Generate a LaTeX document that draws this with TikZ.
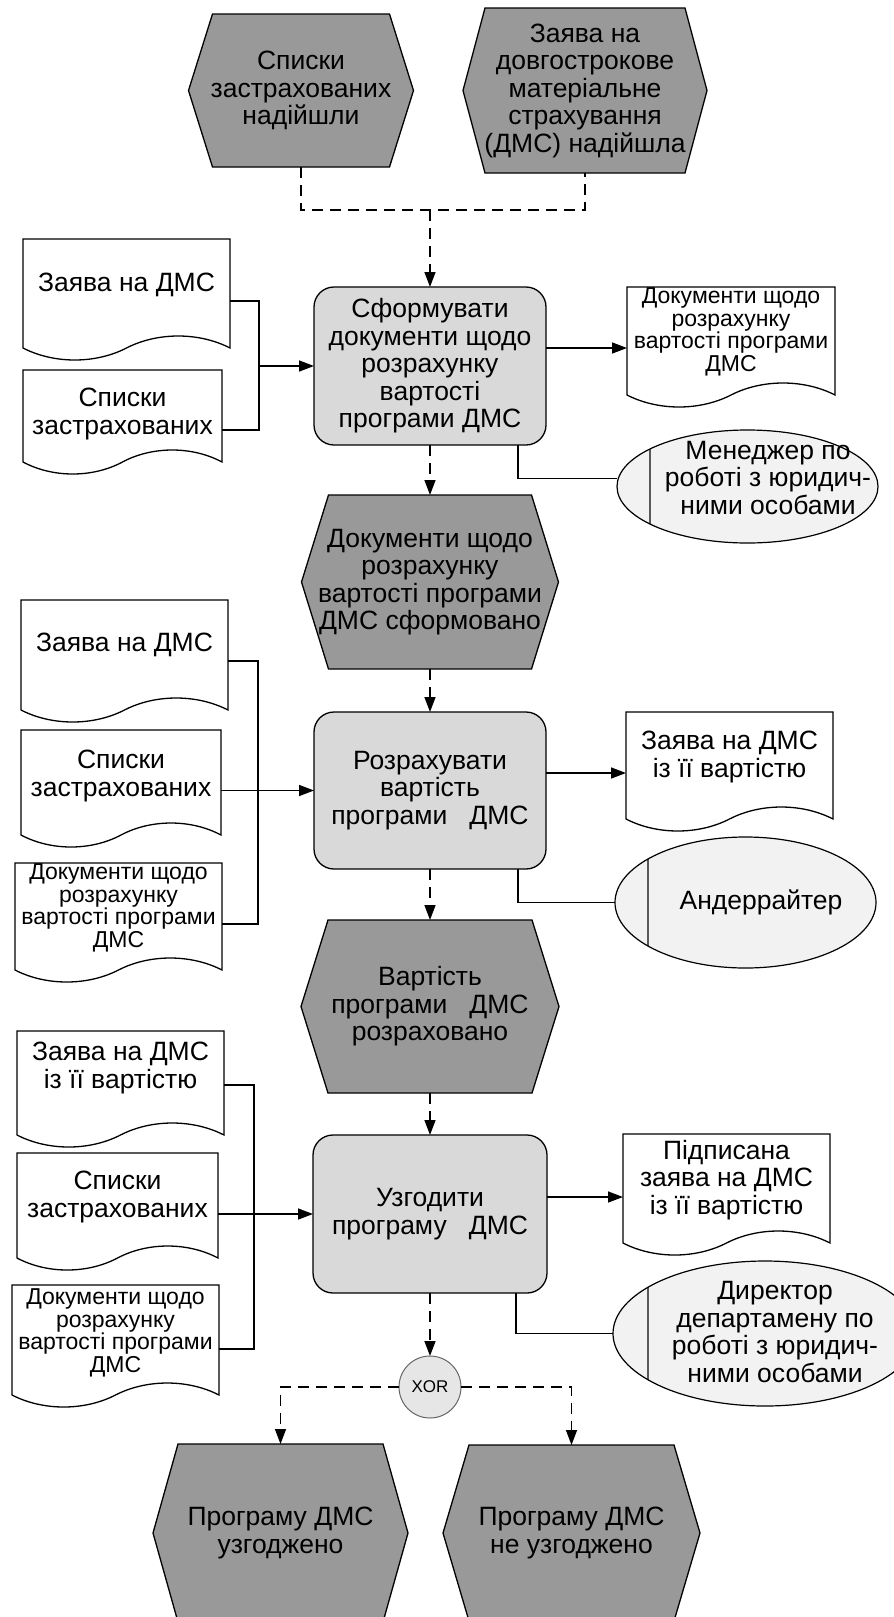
\documentclass[tikz,border=0pt]{standalone}
\usepackage{fontspec}
\setmainfont{Liberation Sans}
\usetikzlibrary{arrows.meta,calc,shapes.geometric}

\definecolor{eventfill}{RGB}{153,153,153}
\definecolor{funcfill}{RGB}{217,217,217}
\definecolor{rolefill}{RGB}{242,242,242}
\definecolor{xorfill}{RGB}{230,230,230}

\pgfdeclarelayer{background}
\pgfsetlayers{background,main}

\newcommand\bigf{\fontsize{26.5}{27.5}\selectfont}
\newcommand\smallf{\fontsize{23}{22.5}\selectfont}
\newcommand\waveamp{16}

\tikzset{
  hexnode/.style={draw=none, inner sep=0pt, outer sep=0pt, align=center, font=\bigf},
  hexline/.style={draw=black, fill=eventfill, line width=1.3pt, line join=miter},
  funcbox/.style={draw=black, fill=funcfill, line width=1.3pt, rounded corners=20pt,
    inner sep=0pt, outer sep=0pt, align=center, font=\bigf},
  docnode/.style={draw=none, inner sep=0pt, outer sep=0pt, align=center},
  docline/.style={draw=black, fill=white, line width=1.3pt},
  roleell/.style={ellipse, draw=black, fill=rolefill, line width=1.2pt, inner sep=0pt, outer sep=0pt},
  roleline/.style={draw=black!65, line width=1.2pt},
  roletext/.style={inner sep=0pt, align=center, font=\bigf},
  xornode/.style={circle, draw=black!60, fill=xorfill, line width=1pt, minimum size=62pt,
    inner sep=0pt, outer sep=0pt, font=\fontsize{17}{19}\selectfont},
  conn/.style={draw=black, line width=1.5pt},
  arr/.style={conn, -{Triangle[length=15pt,width=11pt]}},
  dashline/.style={draw=black, line width=1.4pt, dash pattern=on 11pt off 7pt},
  dasharr/.style={dashline, -{Triangle[length=15pt,width=11pt]}}
}

% event hexagon: name, cx, cy, width, height, chamfer, text
\newcommand\mkhex[7]{%
  \node[hexnode, minimum width=#4, minimum height=#5] (#1) at (#2,#3) {#7};
  \begin{pgfonlayer}{background}
    \draw[hexline] (#1.west) -- ([xshift=#6pt]#1.north west) -- ([xshift=-#6pt]#1.north east)
      -- (#1.east) -- ([xshift=-#6pt]#1.south east) -- ([xshift=#6pt]#1.south west) -- cycle;
  \end{pgfonlayer}}

% document: name, left, top, right, bottom, text y, font, text
\newcommand\mkdoc[8]{%
  \node[docnode, font=#7, minimum width={#4-#2}] (#1) at ({(#2+#4)/2},#6) {#8};
  \begin{pgfonlayer}{background}
    \pgfmathsetmacro\docw{#4-#2}
    \draw[docline] (#2,#5) -- (#2,#3) -- (#4,#3) -- (#4,#5)
      .. controls ({#4-0.15*\docw},{#5-\waveamp}) and ({#4-0.35*\docw},{#5-\waveamp}) .. ({(#2+#4)/2},#5)
      .. controls ({#2+0.35*\docw},{#5+\waveamp}) and ({#2+0.15*\docw},{#5+\waveamp}) .. (#2,#5) -- cycle;
  \end{pgfonlayer}}

\begin{document}
\begin{tikzpicture}[x=1pt,y=-1pt]
\useasboundingbox (0,0) rectangle (894,1617);

% ---- start events ----
\mkhex{h1}{301}{90.5}{225}{153}{24}{Списки\\застрахованих\\надійшли}
\mkhex{h2}{585}{90.5}{244}{165}{22}{Заява на\\довгострокове\\матеріальне\\страхування\\(ДМС) надійшла}
\coordinate (jn) at (430,210);
\draw[dashline] (h1.south) |- (jn) -| (h2.south);

% ---- function 1 ----
\node[funcbox, minimum width=232, minimum height=158] (b1) at (430,366)
  {Сформувати\\документи щодо\\розрахунку\\вартості\\програми ДМС};
\draw[dasharr] (jn) -- (b1.north);

\mkdoc{d1}{23}{239}{230}{348}{285}{\bigf}{Заява на ДМС}
\mkdoc{d2}{23}{370}{222}{462}{414}{\bigf}{Списки\\застрахованих}
\mkdoc{d3}{627}{287}{835}{395}{332}{\smallf}{Документи щодо\\розрахунку\\вартості програми\\ДМС}

\coordinate (j1) at ($(b1.west)+(-55,0)$);
\draw[conn] ($(d1.east)+(0,16)$) -| (j1) |- ($(d2.east)+(0,16)$);
\draw[arr] (j1) -- (b1.west);
\draw[arr] ($(b1.east)+(0,-18)$) coordinate (o1) -- (o1 -| d3.west);

\node[roleell, minimum width=261, minimum height=113,
  path picture={\draw[roleline] ([xshift=-97.5pt]path picture bounding box.north)
    -- ([xshift=-97.5pt]path picture bounding box.south);}] (e1) at (747.5,486.5) {};
\node[roletext] (e1t) at (768,478) {Менеджер по\\роботі з юридич-\\ними особами};
\draw[conn] ($(b1.south east)+(-28,0)$) |- ($(e1.west)+(0,-8)$);

% ---- event 2 ----
\mkhex{h3}{430}{582}{257}{174}{27}{Документи щодо\\розрахунку\\вартості програми\\ДМС сформовано}
\draw[dasharr] (b1.south) -- (h3.north);

% ---- function 2 ----
\node[funcbox, minimum width=232, minimum height=157] (b2) at (430,790.5)
  {Розрахувати\\вартість\\програми~~~ДМС};
\draw[dasharr] (h3.south) -- (b2.north);

\mkdoc{d4}{21}{600}{228}{710}{645}{\bigf}{Заява на ДМС}
\mkdoc{d5}{21}{730}{221}{835}{776}{\bigf}{Списки\\застрахованих}
\mkdoc{d6}{15}{863}{222}{970}{908}{\smallf}{Документи щодо\\розрахунку\\вартості програми\\ДМС}
\mkdoc{d7}{626}{712}{833}{819}{757}{\bigf}{Заява на ДМС\\із її вартістю}

\coordinate (j2) at ($(b2.west)+(-56,0)$);
\draw[conn] ($(d4.east)+(0,16)$) -| (j2) |- ($(d6.east)+(0,16)$);
\draw[arr] (d5.east |- b2.west) -- (b2.west);
\draw[arr] ($(b2.east)+(0,-17.5)$) coordinate (o2) -- (o2 -| d7.west);

\node[roleell, minimum width=261, minimum height=131,
  path picture={\draw[roleline] ([xshift=-97.5pt]path picture bounding box.north)
    -- ([xshift=-97.5pt]path picture bounding box.south);}] (e2) at (745.5,902.5) {};
\node[roletext] (e2t) at (761,902) {Андеррайтер};
\draw[conn] ($(b2.south east)+(-28,0)$) |- (e2.west);

% ---- event 3 ----
\mkhex{h4}{430}{1006.5}{258}{173}{27}{Вартість\\програми~~~ДМС\\розраховано}
\draw[dasharr] (b2.south) -- (h4.north);

% ---- function 3 ----
\node[funcbox, minimum width=234, minimum height=158] (b3) at (430,1214)
  {Узгодити\\програму~~~ДМС};
\draw[dasharr] (h4.south) -- (b3.north);

\mkdoc{d8}{17}{1031}{224}{1135}{1068}{\bigf}{Заява на ДМС\\із її вартістю}
\mkdoc{d9}{17}{1153}{218}{1258}{1197}{\bigf}{Списки\\застрахованих}
\mkdoc{d10}{12}{1285}{219}{1395}{1333}{\smallf}{Документи щодо\\розрахунку\\вартості програми\\ДМС}
\mkdoc{d11}{623}{1134}{830}{1243}{1180}{\bigf}{Підписана\\заява на ДМС\\із її вартістю}

\coordinate (j3) at ($(b3.west)+(-59,0)$);
\draw[conn] ($(d8.east)+(0,17)$) -| (j3) |- ($(d10.east)+(0,16)$);
\draw[arr] (d9.east |- b3.west) -- (b3.west);
\draw[arr] ($(b3.east)+(0,-17)$) coordinate (o3) -- (o3 -| d11.west);

\node[roleell, minimum width=304, minimum height=145,
  path picture={\draw[roleline] ([xshift=-117pt]path picture bounding box.north)
    -- ([xshift=-117pt]path picture bounding box.south);}] (e3) at (765,1333.5) {};
\node[roletext] (e3t) at (775,1332) {Директор\\департамену по\\роботі з юридич-\\ними особами};
\draw[conn] ($(b3.south east)+(-31,0)$) |- (e3.west);

% ---- branching ----
\node[xornode] (x) at (430,1387) {XOR};
\draw[dasharr] (b3.south) -- (x.north);

\mkhex{h5}{280.5}{1533}{255}{178}{25}{Програму ДМС\\узгоджено}
\mkhex{h6}{571.5}{1533}{257}{176}{26}{Програму ДМС\\не узгоджено}
\draw[dasharr] (x.west) -| (h5.north);
\draw[dasharr] (x.east) -| (h6.north);

\end{tikzpicture}
\end{document}
